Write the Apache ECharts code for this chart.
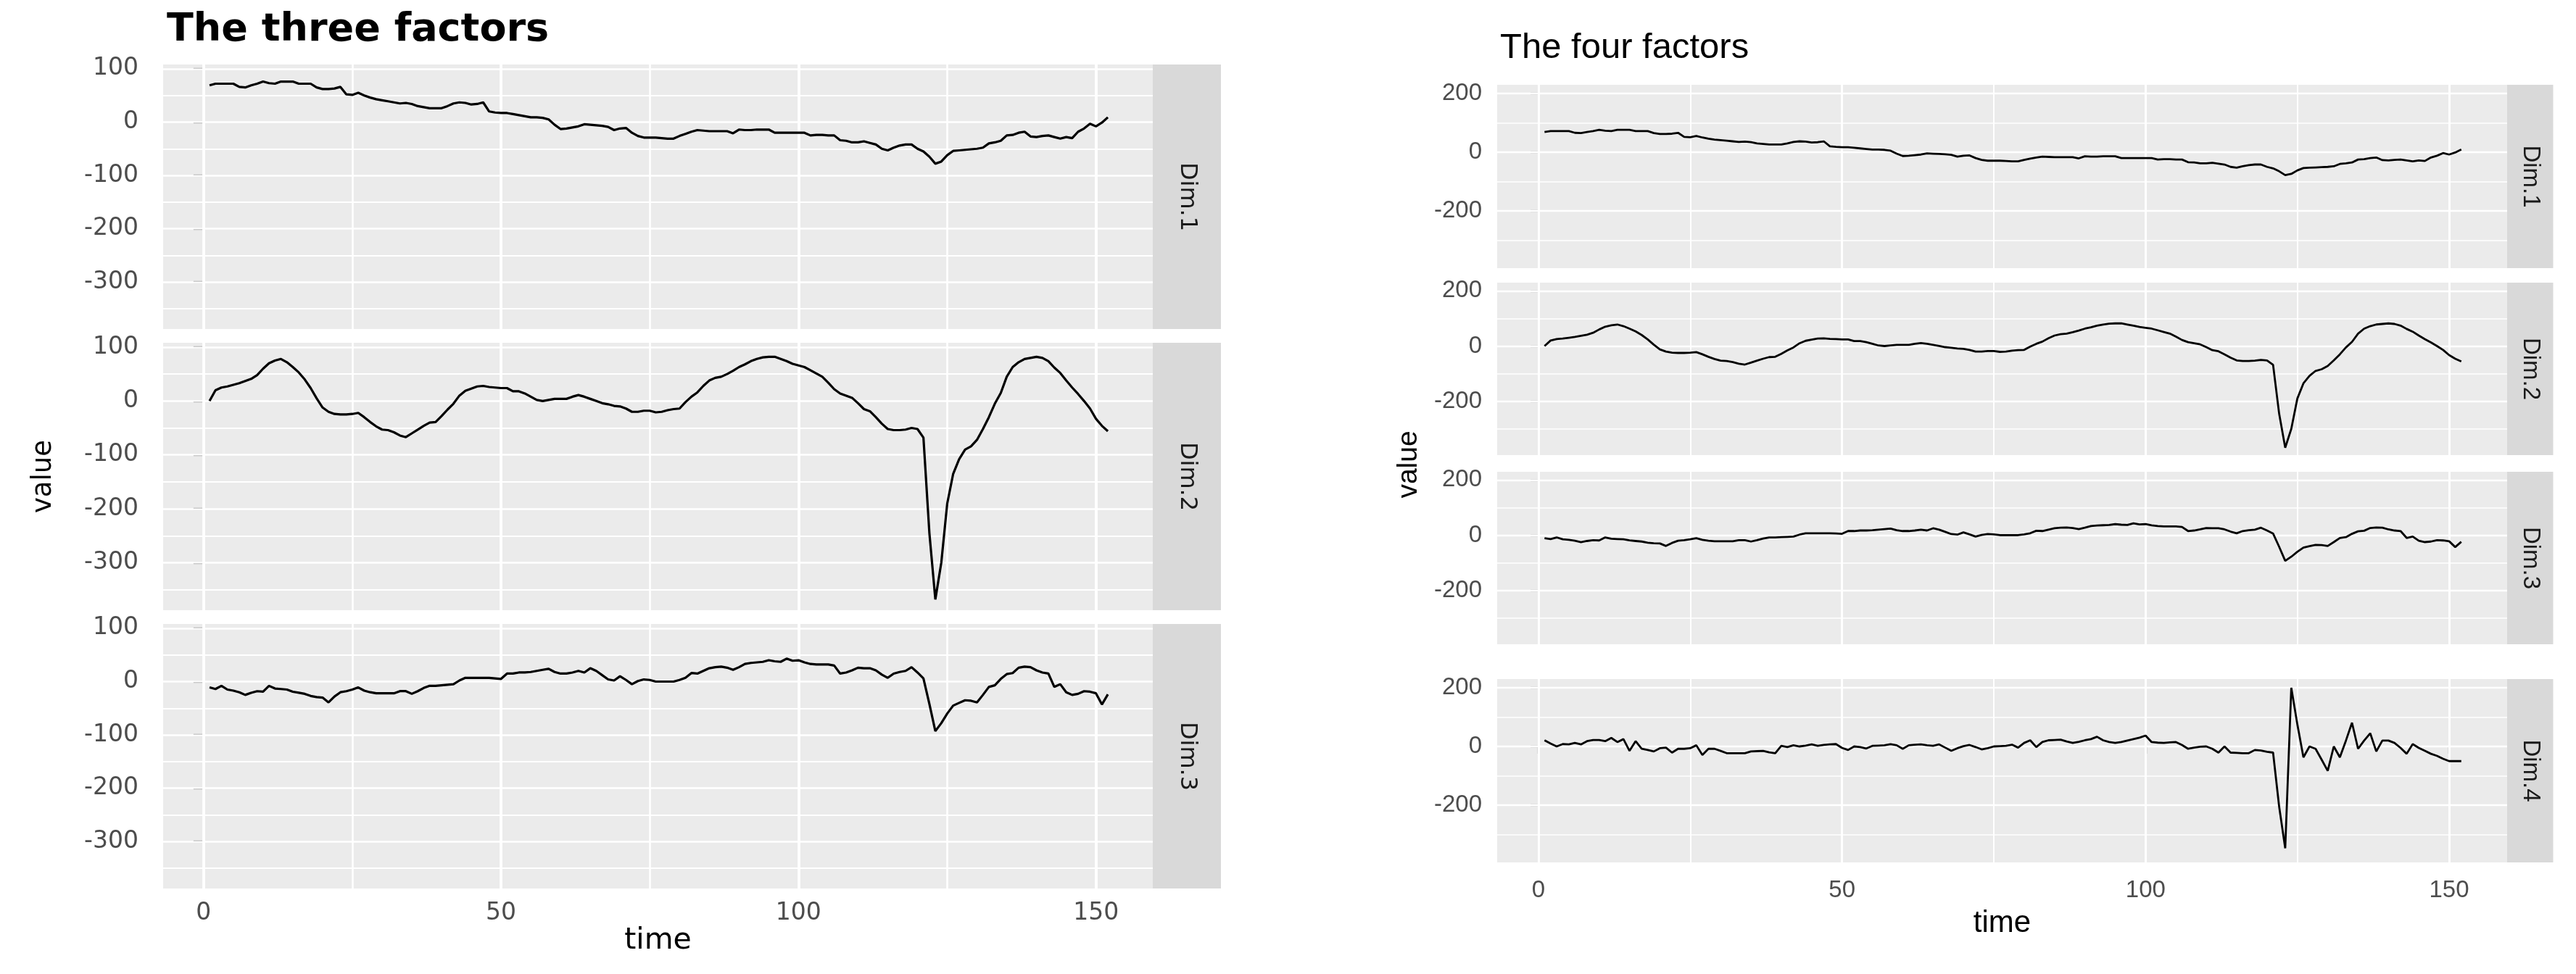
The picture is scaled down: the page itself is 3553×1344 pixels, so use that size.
<!DOCTYPE html>
<html><head><meta charset="utf-8">
<script src="https://cdn.jsdelivr.net/npm/echarts@6/dist/echarts.min.js"></script>
<style>html,body{margin:0;padding:0;background:#fff}#c{width:3553px;height:1344px}</style>
</head><body><div id="c"></div>
<script>
const time = [1,2,3,4,5,6,7,8,9,10,11,12,13,14,15,16,17,18,19,20,21,22,23,24,25,26,27,28,29,30,31,32,33,34,35,36,37,38,39,40,41,42,43,44,45,46,47,48,49,50,51,52,53,54,55,56,57,58,59,60,61,62,63,64,65,66,67,68,69,70,71,72,73,74,75,76,77,78,79,80,81,82,83,84,85,86,87,88,89,90,91,92,93,94,95,96,97,98,99,100,101,102,103,104,105,106,107,108,109,110,111,112,113,114,115,116,117,118,119,120,121,122,123,124,125,126,127,128,129,130,131,132,133,134,135,136,137,138,139,140,141,142,143,144,145,146,147,148,149,150,151,152];

const dim1 = [69,72,72,72,72,66,65,69,72,76, 73,72,76,76,76,72,72,72,65,62,
  62,63,66,52,51,55,50,46,43,41, 39,37,35,36,34,30,28,26,26,26,
  30,35,37,36,33,34,37,20,18,17, 17,15,13,11,9,9,8,5,-5,-13,
  -12,-10,-8,-4,-5,-6,-7,-9,-15,-12, -11,-20,-26,-29,-29,-29,-30,-31,-31,-26,
  -22,-18,-15,-16,-17,-17,-17,-17,-21,-14, -15,-15,-14,-14,-14,-20,-20,-20,-20,-20,
  -20,-25,-24,-24,-25,-25,-34,-35,-38,-38, -36,-39,-42,-50,-53,-48,-44,-42,-42,-50,
  -55,-65,-78,-74,-62,-54,-53,-52,-51,-50, -48,-40,-38,-35,-25,-24,-20,-18,-27,-28,
  -26,-25,-28,-31,-28,-30,-18,-12,-3,-8, -1,9];

const dim2 = [0,20,25,27,30,33,37,41,48,60, 70,75,78,72,63,53,40,24,5,-12,
  -20,-24,-25,-25,-24,-22,-30,-39,-47,-53, -54,-58,-64,-67,-60,-53,-46,-40,-39,-28,
  -16,-5,10,19,23,27,28,26,25,24, 24,18,18,14,8,2,0,2,4,4,
  4,8,11,8,4,0,-4,-6,-9,-10, -14,-20,-20,-18,-18,-21,-20,-17,-15,-14,
  -2,8,16,28,38,43,45,50,56,63, 68,74,78,81,82,82,78,74,69,66,
  63,57,51,45,34,22,14,10,6,-4, -15,-19,-30,-42,-52,-54,-54,-53,-50,-52,
  -68,-245,-368,-300,-190,-135,-108,-90,-84,-72, -52,-30,-5,15,45,63,72,78,80,82,
  80,74,62,52,38,25,13,0,-14,-33, -46,-56];

const dim3 = [-11,-14,-8,-15,-17,-20,-25,-21,-18,-19, -8,-13,-14,-15,-19,-21,-23,-27,-29,-30,
  -39,-28,-20,-18,-15,-11,-17,-20,-22,-22, -22,-22,-18,-18,-23,-18,-12,-8,-8,-7,
  -6,-5,2,7,7,7,7,7,6,5, 15,15,17,17,18,20,22,24,18,15,
  15,17,20,17,25,20,12,4,2,10, 3,-5,1,4,3,0,0,0,0,3,
  7,16,15,20,25,27,28,26,22,27, 33,35,36,37,40,38,37,43,39,40,
  36,33,32,32,32,30,15,17,21,26, 25,25,21,13,7,15,18,20,27,17,
  6,-42,-93,-78,-60,-45,-40,-35,-36,-39, -25,-10,-7,5,14,16,26,28,27,21,
  17,15,-10,-5,-20,-25,-23,-18,-19,-22, -43,-24];

const dim4 = [21,10,0,8,7,12,7,18,22,22, 18,29,15,25,-15,18,-8,-12,-17,-6,
  -4,-21,-8,-8,-6,4,-29,-8,-8,-15, -23,-23,-23,-23,-17,-16,-15,-20,-23,2,
  -2,4,0,3,7,2,5,7,8,-5, -12,0,-2,-7,2,3,4,8,4,-8,
  4,6,7,4,2,7,-4,-15,-6,1, 5,-2,-10,-6,0,1,2,6,-4,12,
  21,-2,15,21,22,23,17,12,16,21, 25,33,21,15,12,15,20,25,30,37,
  15,13,12,14,15,5,-8,-4,-1,0, -8,-21,0,-21,-22,-23,-23,-12,-14,-18,
  -21,-205,-347,200,75,-37,0,-8,-45,-83, 0,-37,20,81,-8,20,45,-17,20,20,
  12,-5,-25,8,-5,-15,-25,-32,-42,-50, -50,-50];

const stripLabels = ['Dim.1', 'Dim.2', 'Dim.3', 'Dim.4'];
const titles = ['The three factors', 'The four factors'];
const xMajor = [0, 50, 100, 150];
const xMinor = [25, 75, 125];
const yMajorL = [-300, -200, -100, 0, 100];
const yMinorL = [-350, -250, -150, -50, 50];
const yMajorR = [-200, 0, 200];
const yMinorR = [-300, -100, 100];

const charts = [
  { font: 'DejaVu Sans', left: 225, width: 1365, panels: [[89, 365], [473, 369], [861, 365]],
    stripW: 94, stripFont: 32, yMin: -388, yMax: 108, yMajor: yMajorL, yMinor: yMinorL,
    dims: [dim1, dim2, dim3], lineW: 3.2, hMaj: 2.6, hMin: 1.8, vMaj: 3.8, vMin: 2.6,
    tickFont: 33, yTickLen: 14, xTickLen: 10, yLabMargin: 34, xLabMargin: 18,
    nameFont: 41, nameGap: 52, valueAxisName: 1, valueGap: 146, valueFont: 37 },
  { font: 'Liberation Sans', left: 2065, width: 1393, panels: [[117, 253], [390, 238], [651, 238], [937, 253]],
    stripW: 63.5, stripFont: 33, yMin: -395, yMax: 229.6, yMajor: yMajorR, yMinor: yMinorR,
    dims: [dim1, dim2, dim3, dim4], lineW: 2.8, hMaj: 2.4, hMin: 1.6, vMaj: 3, vMin: 2,
    tickFont: 33, yTickLen: 11, xTickLen: 10, yLabMargin: 21, xLabMargin: 22,
    nameFont: 42, nameGap: 63, valueAxisName: -1, valueFont: 39 }
];

const grid = [], xAxis = [], yAxis = [], series = [], graphic = [];
charts.forEach((C, ci) => {
  C.panels.forEach((p, pi) => {
    const idx = grid.length;
    const isBottom = pi === C.panels.length - 1;
    grid.push({ left: C.left, top: p[0], width: C.width, height: p[1], show: true,
      backgroundColor: '#EBEBEB', borderWidth: 0, containLabel: false, outerBoundsMode: 'none' });
    xAxis.push({ gridIndex: idx, type: 'value', min: -6.8, max: 159.55,
      axisLine: { show: false }, splitLine: { show: false },
      axisTick: { show: isBottom, customValues: xMajor, length: C.xTickLen, lineStyle: { color: '#333333', width: 2.2 } },
      axisLabel: { show: isBottom, customValues: xMajor, margin: C.xLabMargin, fontSize: C.tickFont, color: '#4D4D4D', fontFamily: C.font },
      name: isBottom ? 'time' : '', nameLocation: 'middle', nameGap: C.nameGap,
      nameTextStyle: { fontSize: C.nameFont, color: '#000', fontFamily: C.font } });
    const showValName = C.valueAxisName === pi;
    yAxis.push({ gridIndex: idx, type: 'value', min: C.yMin, max: C.yMax,
      axisLine: { show: false }, splitLine: { show: false },
      axisTick: { show: true, customValues: C.yMajor, length: C.yTickLen, lineStyle: { color: '#333333', width: 2.2 } },
      axisLabel: { show: true, customValues: C.yMajor, margin: C.yLabMargin, fontSize: C.tickFont, color: '#4D4D4D', fontFamily: C.font },
      name: showValName ? 'value' : '', nameLocation: 'middle', nameGap: C.valueGap || 0, nameRotate: 90,
      nameTextStyle: { fontSize: C.valueFont, color: '#000', fontFamily: C.font } });
    const ml = [];
    C.yMinor.forEach(v => ml.push({ yAxis: v, lineStyle: { color: '#FFFFFF', width: C.hMin, type: 'solid' } }));
    C.yMajor.forEach(v => ml.push({ yAxis: v, lineStyle: { color: '#FFFFFF', width: C.hMaj, type: 'solid' } }));
    xMinor.forEach(v => ml.push({ xAxis: v, lineStyle: { color: '#FFFFFF', width: C.vMin, type: 'solid' } }));
    xMajor.forEach(v => ml.push({ xAxis: v, lineStyle: { color: '#FFFFFF', width: C.vMaj, type: 'solid' } }));
    const arr = C.dims[pi];
    series.push({ type: 'line', xAxisIndex: idx, yAxisIndex: idx,
      data: time.map((t, k) => [t, arr[k]]), showSymbol: false, symbol: 'none',
      lineStyle: { color: '#000000', width: C.lineW }, z: 3, silent: true, animation: false,
      markLine: { silent: true, z: 1, symbol: ['none', 'none'], animation: false,
        label: { show: false }, emphasis: { disabled: true },
        lineStyle: { color: '#FFFFFF', type: 'solid' }, data: ml } });
    // facet strip
    const sx = C.left + C.width;
    graphic.push({ type: 'rect', silent: true, z: 0, shape: { x: sx, y: p[0], width: C.stripW, height: p[1] },
      style: { fill: '#D9D9D9' } });
    graphic.push({ type: 'text', silent: true, z: 1, x: sx + C.stripW / 2, y: p[0] + p[1] / 2, rotation: -Math.PI / 2,
      style: { text: stripLabels[pi], fontSize: C.stripFont, fontFamily: C.font, fill: '#1A1A1A',
        align: 'center', verticalAlign: 'middle', textAlign: 'center', textVerticalAlign: 'middle' } });
  });
});
// y-axis title of the right figure (centred between panels 2 and 3)
graphic.push({ type: 'text', silent: true, x: 1943, y: 641, rotation: Math.PI / 2,
  style: { text: 'value', fontSize: 39, fontFamily: 'Liberation Sans', fill: '#000',
    align: 'center', verticalAlign: 'middle', textAlign: 'center', textVerticalAlign: 'middle' } });

const chart = echarts.init(document.getElementById('c'), null, { renderer: 'canvas' });
chart.setOption({
  animation: false,
  backgroundColor: '#FFFFFF',
  title: [
    { text: titles[0], left: 230, top: 15, padding: 0,
      textStyle: { fontFamily: 'DejaVu Sans', fontWeight: 'bold', fontSize: 54, color: '#000' } },
    { text: titles[1], left: 2069, top: 42, padding: 0,
      textStyle: { fontFamily: 'Liberation Sans', fontWeight: 'normal', fontSize: 49, color: '#000' } }
  ],
  grid, xAxis, yAxis, series, graphic
});
</script></body></html>
